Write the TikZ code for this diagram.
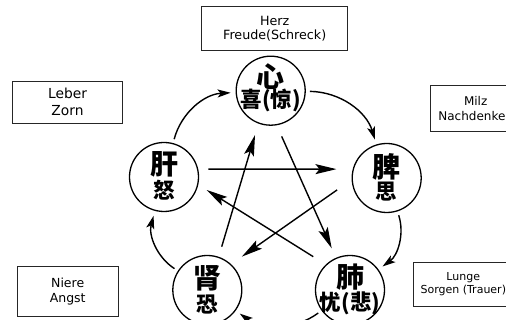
\documentclass[tikz,border=0pt]{standalone}
\usepackage{fontspec}
\setmainfont{DejaVu Sans}
\newfontfamily\cjk{Noto Sans CJK SC}
\usetikzlibrary{arrows.meta, calc}

\begin{document}
\begin{tikzpicture}[
    x=1pt, y=1pt,
    organ/.style={
        circle,
        draw,
        line width=1.3pt,
        minimum size=69pt,
        inner sep=0pt
    },
    organname/.style={
        font=\cjk\bfseries\fontsize{28}{28}\selectfont,
        inner sep=0pt
    },
    emotion/.style={
        font=\cjk\bfseries\fontsize{21.5}{21.5}\selectfont,
        inner sep=0pt
    },
    infobox/.style={
        rectangle,
        draw=black!85,
        line width=0.8pt,
        align=center
    },
    shengarrow/.style={
        -{Stealth[length=13pt, width=8pt, inset=3pt]},
        line width=1.4pt,
        shorten <=4pt,
        shorten >=5pt
    },
    kearrow/.style={
        -{Stealth[length=21pt, width=10pt, inset=4pt]},
        line width=1.4pt
    }
]
    \clip (0,0) rectangle (506,320);

    % Organs
    \node[organ] (heart) at (270.7,229.3) {};
    \node[organ] (liver) at (164,143) {};
    \node[organ] (spleen) at (386.7,142) {};
    \node[organ] (kidney) at (207.3,30) {};
    \node[organ] (lung) at (350,30) {};

    \node[organname] (heart-name) at ([yshift=14.5pt]heart) {心};
    \node[emotion] (heart-emo) at ([yshift=-9.5pt]heart) {喜(惊)};
    \node[organname] (liver-name) at ([yshift=13pt]liver) {肝};
    \node[emotion] (liver-emo) at ([yshift=-13pt]liver) {怒};
    \node[organname] (spleen-name) at ([yshift=11.5pt]spleen) {脾};
    \node[emotion] (spleen-emo) at ([yshift=-13.5pt]spleen) {思};
    \node[organname] (kidney-name) at ([yshift=11.5pt]kidney) {肾};
    \node[emotion] (kidney-emo) at ([yshift=-15pt]kidney) {恐};
    \node[organname] (lung-name) at ([yshift=13pt]lung) {肺};
    \node[emotion] (lung-emo) at ([yshift=-13pt]lung) {忧(悲)};

    % Labels
    \node[infobox, minimum width=146pt, minimum height=44pt, font=\fontsize{12.7}{14.5}\selectfont] (herzbox) at (274.7,291.2) {Herz\\Freude(Schreck)};
    \node[infobox, minimum width=110pt, minimum height=42pt, font=\fontsize{13.8}{16.7}\selectfont] (leberbox) at (67.5,217.9) {Leber\\Zorn};
    \node[infobox, minimum width=90pt, minimum height=46pt, font=\fontsize{12}{15}\selectfont] (milzbox) at (475.7,211.2) {Milz\\Nachdenken};
    \node[infobox, minimum width=100pt, minimum height=44pt, font=\fontsize{11}{12.5}\selectfont] (lungebox) at (463.3,35.9) {Lunge\\Sorgen (Trauer)};
    \node[infobox, minimum width=101pt, minimum height=50pt, font=\fontsize{12.5}{15}\selectfont] (nierebox) at (67.7,28.9) {Niere\\Angst};

    % Sheng cycle
    \draw[shengarrow] (heart) to[bend left=36] (spleen);
    \draw[shengarrow] (spleen) to[bend left=36] (lung);
    \draw[shengarrow] (lung) to[bend left=36] (kidney);
    \draw[shengarrow] (kidney) to[bend left=36] (liver);
    \draw[shengarrow] (liver) to[bend left=36] (heart);

    % Ke cycle
    \draw[kearrow] ($(liver)+(10:45)$) -- ($(spleen)+(170:51)$);
    \draw[kearrow] ($(heart)+(-76.5:47)$) -- ($(lung)+(113.7:45.5)$);
    \draw[kearrow] ($(kidney)+(71.6:45.6)$) -- ($(heart)+(-109.5:47)$);
    \draw[kearrow] ($(spleen)+(193.5:51)$) -- ($(kidney)+(44:48)$);
    \draw[kearrow] ($(lung)+(137.8:49.6)$) -- ($(liver)+(-17:44.6)$);

\end{tikzpicture}
\end{document}
